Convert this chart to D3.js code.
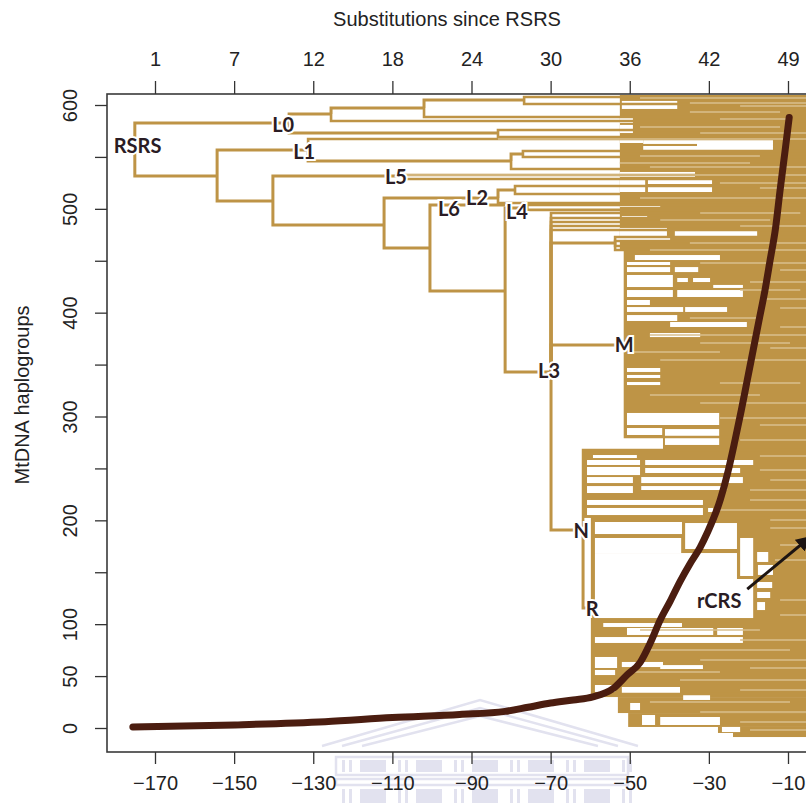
<!DOCTYPE html>
<html><head><meta charset="utf-8">
<script src="https://cdn.jsdelivr.net/npm/d3@7"></script>
<style>
body{margin:0;background:#fff;}
svg{display:block;}
</style></head>
<body>
<svg id="chart" width="806" height="803"></svg>
<script>
// ================= DATA =================
const xTickValues = [-170,-150,-130,-110,-90,-70,-50,-30,-10];
const topTickLabels = [1,7,12,18,24,30,36,42,49];
const yTickValues = [0,50,100,150,200,250,300,350,400,450,500,550,600];
const yTickLabels = [0,50,100,200,300,400,500,600];

// tree skeleton nodes: name, parent, time (x), haplogroup index (y)
const nodeNames   = ["RSRS","L0","L0a","L0b","L0a1","L0a1a","n1","L1","L1b","L1b1","n2","L5","n3","L2","L2a","n4","L6","n5","L4","L3","L3x","M","N","R"];
const nodeParents = [null,"RSRS","L0","L0","L0a","L0a1","RSRS","n1","L1","L1b","n1","n2","n2","n3","L2","n3","n4","n4","n5","n5","L3","L3","L3","N"];
const nodeX = [-175.1,-136.1,-125.5,-83.3,-102.0,-76.7,-154.3,-131.3,-80.0,-77.0,-140.2,-106.8,-112.1,-83.3,-79.0,-100.5,-81.5,-81.5,-75.9,-69.9,-53.7,-51.2,-61.8,-59.5];
const nodeY = [556.7,582.7,591.4,573.0,597.1,604.8,531.6,556.7,546.1,552.8,507.6,531.6,484.4,510.4,518.2,462.3,503.7,420.9,500.8,342.9,467.1,368.9,190.7,115.6];

// leaves running to the present (tip)
const leafParents = ["L0a1a","L0a1a","L0a1","L0a","L0b","L0b","L1","L1b1","L1b1","L1b","L5","L5","L2a","L2a","L2","L4","L4","L3","L3","L3","L3","L3","L3x","L3x","L3x","L3x","M","M","N","R","R"];
const leafY = [607.7,601.0,588.5,584.6,575.9,569.2,567.3,555.7,549.9,538.4,532.6,528.7,522.0,514.3,505.6,503.7,499.0,496.0,491.2,487.3,483.5,479.6,472.9,469.0,464.2,460.4,458.4,280.3,267.7,202.3,32.7];
const tipX = 0;

// dense clades (solid areas of tips): top index, bottom index, start time
const blockTop    = [609.7,460.4,280.3,267.7,202.3,29.8,14.4,1.0,-4.8];
const blockBottom = [460.4,280.3,267.7,202.3,29.8,14.4,1.0,-4.8,-8.7];
const blockLeft   = [-52.5,-51.2,-41.6,-61.8,-59.5,-53.0,-50.4,-27.7,-23.9];

// gaps inside dense clades: [start, end, top index, bottom index]
const gaps = [
[-52.0,-38.0,603.9,596.2],[-46.6,-13.8,566.3,562.5],[-33.0,-13.8,563.4,559.6],[-46.6,-13.8,560.5,555.7],
[-52.5,-33.5,535.5,530.7],[-52.5,-46.1,527.8,516.2],[-45.4,-29.2,527.8,523.9],[-45.4,-29.2,522.0,516.2],
[-52.5,-42.3,505.6,501.8],[-52.0,-45.6,493.1,490.2],[-52.5,-40.6,481.6,473.8],[-38.6,-17.8,478.7,471.9],
[-53.0,-39.8,471.9,469.0],[-52.5,-49.2,580.8,573.0],[-52.5,-49.2,588.5,582.7],[-52.5,-46.6,569.2,563.4],
[-48.7,-27.2,455.5,450.7],[-50.7,-39.8,448.8,445.9],[-50.7,-39.8,443.9,439.1],[-38.6,-32.7,443.9,439.1],
[-50.7,-39.1,436.3,424.7],[-38.0,-35.3,433.4,429.5],[-34.0,-29.7,433.4,429.5],[-28.9,-21.4,426.7,423.8],
[-50.7,-39.1,421.8,415.1],[-38.0,-21.4,421.8,415.1],[-50.7,-44.9,412.2,407.4],[-50.7,-36.5,405.4,400.7],
[-36.0,-25.4,405.4,400.7],[-50.7,-38.0,397.7,392.0],[-39.8,-20.4,391.0,386.2],[-44.9,-32.2,380.4,376.5],
[-50.7,-42.3,346.7,342.9],[-50.7,-42.3,340.0,337.1],[-50.7,-42.3,333.2,330.3],[-50.7,-27.4,303.4,291.8],
[-50.7,-41.8,288.9,282.2],[-41.1,-27.4,287.9,272.6],
[-59.3,-48.2,262.9,260.0],[-60.8,-47.4,258.1,253.3],[-46.1,-18.8,258.1,253.3],[-60.8,-47.4,251.4,243.6],
[-46.1,-22.1,250.4,245.6],[-60.8,-49.2,241.7,235.9],[-47.1,-21.4,241.7,235.9],[-60.8,-49.2,233.0,226.3],
[-47.1,-25.4,233.0,229.2],[-60.8,-31.5,219.6,214.8],[-60.8,-31.5,211.9,205.1],[-30.2,-28.9,211.9,208.0],
[-58.8,-36.8,198.4,186.8],[-36.0,-22.9,197.4,172.4],[-58.8,-37.0,183.0,168.5],[-58.8,-22.9,168.5,143.5],
[-22.1,-18.8,183.0,146.4],[-58.8,-18.8,143.5,105.9],[-17.8,-15.0,169.5,159.9],[-17.6,-13.8,157.0,147.4],
[-17.8,-14.0,140.6,134.8],[-17.8,-14.5,131.0,125.2],[-17.8,-15.8,121.3,113.6],
[-56.7,-36.8,101.1,97.3],[-50.7,-28.9,96.3,89.6],[-27.9,-21.4,96.3,89.6],[-58.8,-21.4,87.6,81.9],
[-58.8,-53.2,68.4,57.8],[-52.0,-41.6,63.6,58.7],[-42.3,-31.5,60.6,56.8],[-58.8,-53.7,55.9,51.0],
[-58.8,-53.7,41.4,34.7],[-52.0,-37.3,39.5,32.7],[-36.5,-29.7,33.7,27.0],[-49.9,-47.4,24.1,17.3],
[-46.9,-43.6,12.5,2.9],[-42.3,-27.2,10.6,2.9],[-26.7,-22.1,1.0,-3.9]
];

// lighter (tan) tip lines: [index, start, end]
const streaks = [
[606.7,-47.4,0],[601.9,-34.8,0],[599.0,-22.1,0],[593.2,-34.8,-12.0],[586.5,-27.2,-9.5],[578.8,-47.4,-12.0],
[573.0,-32.2,0],[567.3,-83.3,0],[550.9,-47.4,-17.1],[544.1,-52.5,-19.6],[540.3,-44.9,0],[532.6,-106.8,0],
[524.9,-27.2,0],[520.0,-17.1,0],[510.4,-47.4,0],[496.0,-32.2,-6.9],[489.2,-42.3,-14.5],[483.4,-22.1,0],
[467.1,-34.8,0],[460.4,-44.9,0],[447.8,-32.2,0],[441.1,-12.0,0],[429.5,-19.6,0],[421.8,-22.1,-6.9],
[413.1,-17.1,0],[404.5,-12.0,0],[394.8,-34.8,-17.1],[386.2,-12.0,0],[378.5,-44.9,0],[370.8,-32.2,-9.5],
[365.9,-14.5,0],[362.1,-49.9,-27.2],[354.4,-42.3,0],[332.2,-27.2,-6.9],[320.7,-44.9,-17.1],[313.0,-32.2,0],
[298.5,-27.2,0],[291.8,-17.1,0],[277.4,-22.1,0],[262.0,-17.1,0],[248.5,-17.1,0],[238.8,-14.5,0],
[229.2,-19.6,0],[219.6,-19.6,0],[210.0,-27.2,0],[200.3,-14.5,0],[192.6,-14.5,0],[176.2,-12.0,0],
[161.8,-13.3,0],[123.3,-12.0,0],[108.8,-12.0,0],[94.4,-47.4,-17.1],[84.7,-22.1,0],[75.1,-44.9,-9.5],
[65.5,-32.2,0],[57.8,-19.6,0],[53.9,-49.9,-27.2],[46.2,-37.3,0],[36.6,-22.1,0],[25.0,-44.9,-9.5],
[15.4,-32.2,0],[5.8,-22.1,0],[-1.9,-19.6,0]
];

// cumulative haplogroup curve
const curveX = [-175.6,-149.8,-127,-110,-93,-81.5,-75.7,-70,-64.3,-59.3,-54.2,-50.7,-47.4,-44.8,-42.3,-39.8,-37.3,-34.8,-32.2,-30.4,-27.1,-25.1,-23.4,-21.8,-20.3,-18.8,-17.3,-15.8,-14.5,-13.2,-12.0,-10.7,-9.7];
const curveY = [1,3,6,10,13,16,20,24,27,30,38,51,63,82,104,122,141,158,174,188,220,248,277,306,335,364,393,422,451,480,518,557,588];

// clade labels
const cladeNames = ["RSRS","L0","L1","L5","L6","L2","L4","L3","M","N","R","rCRS"];
const cladeX = [-174.4,-137.6,-132.3,-109.1,-95.7,-88.6,-78.5,-70.4,-51.4,-62.3,-59.5,-27.4];
const cladeY = [561.5,581.7,555.7,531.6,500.8,511.4,497.9,344.8,369.8,190.7,115.6,123.3];
const arrowFrom = [-20.3,133.8];
const arrowTo = [-4.4,183.9];

// ================= DRAW =================
const svg = d3.select("#chart");
const x = d3.scaleLinear().domain([-170,-10]).range([155,788]);
const y = d3.scaleLinear().domain([0,600]).range([728,105]);
const box = {left:107, top:94, right:840, bottom:752};
const GOLD = "#BE9446", TAN = "#D9BF8E", CURVE = "#4B1D10";
const FONT = "'Liberation Sans', Arial, Helvetica, sans-serif";

// faint watermark (decorative)
const WM = "#e2e2ef";
const wm = svg.append("g").attr("fill","none").attr("stroke",WM).attr("stroke-width",2.5);
[[322,700,638],[342,708,618],[362,716,598]].forEach(([a,t,b])=>{
  wm.append("path").attr("d",`M${a},746 L480,${t} L${b},746`);
});
wm.append("rect").attr("x",336).attr("y",757).attr("width",292).attr("height",18);
wm.append("rect").attr("x",336).attr("y",779).attr("width",292).attr("height",6);
for(let i=0;i<6;i++){
  const bx = 342 + i*56;
  [[bx,760,3,12],[bx+7,760,3,12],[bx,789,3,14],[bx+7,789,3,14]].forEach(r=>
    wm.append("rect").attr("x",r[0]).attr("y",r[1]).attr("width",r[2]).attr("height",r[3]).attr("fill",WM).attr("stroke","none"));
  if(i<5){
    [[bx+18,760,26,12],[bx+18,789,26,14]].forEach(r=>
      wm.append("rect").attr("x",r[0]).attr("y",r[1]).attr("width",r[2]).attr("height",r[3]).attr("fill",WM).attr("stroke","none"));
  }
}

// clip for plot
svg.append("defs").append("clipPath").attr("id","plotclip")
  .append("rect").attr("x",box.left).attr("y",box.top)
  .attr("width",box.right-box.left).attr("height",box.bottom-box.top);
const plot = svg.append("g").attr("clip-path","url(#plotclip)");

// dense clades
plot.append("g").selectAll("rect").data(d3.range(blockTop.length)).join("rect")
  .attr("x", i=>x(blockLeft[i])).attr("y", i=>y(blockTop[i]))
  .attr("width", i=>x(tipX)-x(blockLeft[i])).attr("height", i=>y(blockBottom[i])-y(blockTop[i]))
  .attr("fill", GOLD);

// gaps
plot.append("g").selectAll("rect").data(gaps).join("rect")
  .attr("x", d=>x(d[0])).attr("y", d=>y(d[2]))
  .attr("width", d=>x(d[1])-x(d[0])).attr("height", d=>y(d[3])-y(d[2]))
  .attr("fill", "#fff");

// skeleton
const nodes = nodeNames.map((n,i)=>({name:n,parent:nodeParents[i],x:nodeX[i],y:nodeY[i]}));
const byName = new Map(nodes.map(d=>[d.name,d]));
plot.append("g").attr("fill","none").attr("stroke",GOLD).attr("stroke-width",3)
  .selectAll("path").data(nodes.filter(d=>d.parent)).join("path")
  .attr("d", d=>{const p=byName.get(d.parent); return `M${x(p.x)},${y(p.y)}V${y(d.y)}H${x(d.x)}`;});

// leaves
plot.append("g").attr("fill","none").attr("stroke",GOLD).attr("stroke-width",2.6)
  .selectAll("path").data(leafParents.map((p,i)=>({p:byName.get(p),y:leafY[i]}))).join("path")
  .attr("d", d=>`M${x(d.p.x)},${y(d.p.y)}V${y(d.y)}H${x(tipX)}`);

// tan streaks
plot.append("g").attr("stroke",TAN).attr("stroke-width",1.6)
  .selectAll("line").data(streaks).join("line")
  .attr("x1", d=>x(d[1])).attr("x2", d=>x(d[2])).attr("y1", d=>y(d[0])).attr("y2", d=>y(d[0]));

// curve
const line = d3.line().x((d,i)=>x(curveX[i])).y((d,i)=>y(curveY[i])).curve(d3.curveMonotoneX);
plot.append("path").datum(curveX).attr("d", line)
  .attr("fill","none").attr("stroke",CURVE).attr("stroke-width",7)
  .attr("stroke-linecap","round").attr("stroke-linejoin","round");

// labels
plot.append("g").selectAll("text").data(cladeNames).join("text")
  .attr("x",(d,i)=>x(cladeX[i])).attr("y",(d,i)=>y(cladeY[i]))
  .attr("text-anchor","middle").attr("dominant-baseline","central")
  .attr("font-family","Lato, 'Open Sans', sans-serif").attr("font-weight",700).attr("font-size",20)
  .attr("fill","#2a1c24").attr("stroke","#fff").attr("stroke-width",4).attr("paint-order","stroke")
  .text(d=>d);

// arrow to rCRS
svg.select("defs").append("marker").attr("id","ah").attr("viewBox","0 0 10 10")
  .attr("refX",9).attr("refY",5).attr("markerWidth",5).attr("markerHeight",5).attr("orient","auto")
  .append("path").attr("d","M0,0 L10,5 L0,10 z").attr("fill","#1c1412");
plot.append("line").attr("x1",x(arrowFrom[0])).attr("y1",y(arrowFrom[1]))
  .attr("x2",x(arrowTo[0])).attr("y2",y(arrowTo[1]))
  .attr("stroke","#1c1412").attr("stroke-width",3).attr("marker-end","url(#ah)");

// box
svg.append("rect").attr("x",box.left).attr("y",box.top)
  .attr("width",box.right-box.left).attr("height",box.bottom-box.top)
  .attr("fill","none").attr("stroke","#3a3a3a").attr("stroke-width",1.6);

// axes
function styleAxis(g){
  g.select(".domain").remove();
  g.selectAll(".tick line").attr("stroke","#333").attr("stroke-width",1.3);
  g.selectAll("text").attr("font-family",FONT).attr("font-size",20).attr("fill","#222");
}
svg.append("g").attr("transform",`translate(0,${box.top})`)
  .call(d3.axisTop(x).tickValues(xTickValues).tickFormat((d,i)=>topTickLabels[i]).tickSize(13).tickPadding(15))
  .call(styleAxis);
svg.append("g").attr("transform",`translate(0,${box.bottom})`)
  .call(d3.axisBottom(x).tickValues(xTickValues).tickFormat(d3.format("d")).tickSize(12).tickPadding(12))
  .call(styleAxis);
svg.append("g").attr("transform",`translate(${box.left},0)`)
  .call(d3.axisLeft(y).tickValues(yTickValues).tickFormat(d=>yTickLabels.includes(d)?d:"").tickSize(12))
  .call(styleAxis)
  .call(g=>g.selectAll("text").attr("x",0).attr("dy",0).attr("text-anchor","middle")
     .attr("transform","translate(-30,0) rotate(-90)"));

// titles
svg.append("text").attr("x",447).attr("y",26).attr("text-anchor","middle")
  .attr("font-family",FONT).attr("font-size",20).attr("fill","#222").text("Substitutions since RSRS");
svg.append("text").attr("transform","translate(29,395) rotate(-90)").attr("text-anchor","middle")
  .attr("font-family",FONT).attr("font-size",20).attr("fill","#222").text("MtDNA haplogroups");
</script>
</body></html>
